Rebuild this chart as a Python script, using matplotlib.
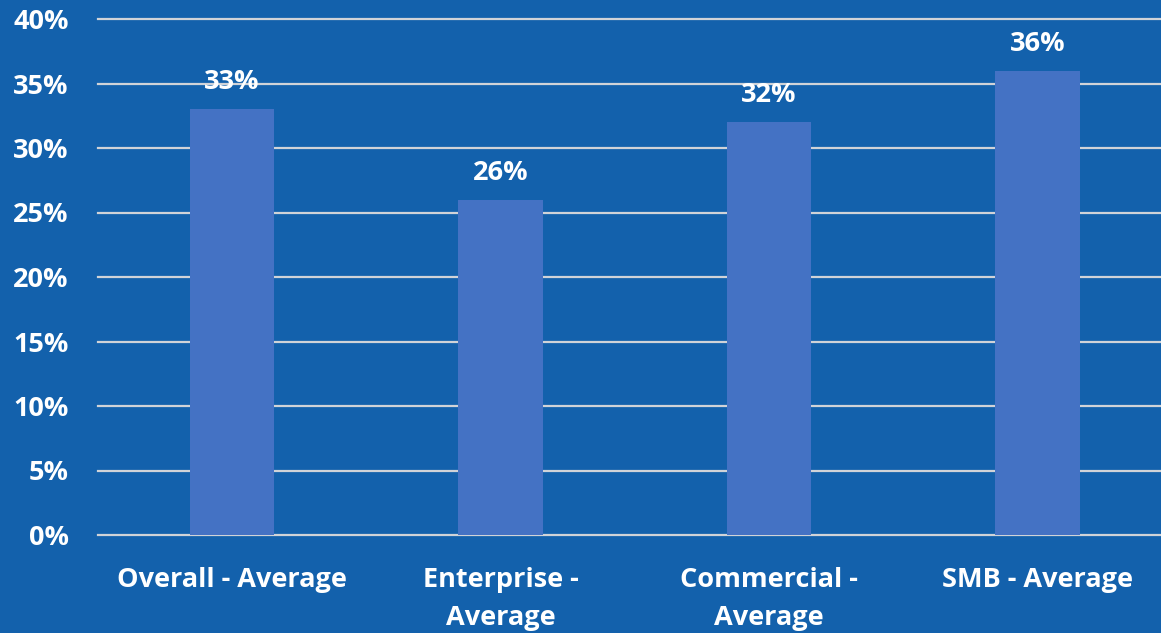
import matplotlib.pyplot as plt
from matplotlib.ticker import FuncFormatter

categories = ['Overall - Average', 'Enterprise -\nAverage', 'Commercial -\nAverage', 'SMB - Average']
values = [0.33, 0.26, 0.32, 0.36]
yticks = [0, 0.05, 0.10, 0.15, 0.20, 0.25, 0.30, 0.35, 0.40]

bg = '#1361AC'
bar_color = '#4472C4'
grid_color = '#D0D3D8'
font = ['Open Sans', 'DejaVu Sans']

plt.rcParams['font.family'] = font
plt.rcParams['font.weight'] = 'bold'

fig = plt.figure(figsize=(11.61, 6.33), dpi=100, facecolor=bg)
ax = fig.add_axes([97.75 / 1161, 98 / 633, 1074 / 1161, 516 / 633])
ax.set_facecolor(bg)

x = range(len(categories))
ax.bar(x, values, width=0.313, color=bar_color, zorder=3)
for xi, v in zip(x, values):
    ax.annotate(f'{v*100:.0f}%', (xi, v), xytext=(0, 10), textcoords='offset points',
                ha='center', va='bottom', color='white', fontsize=19.5, fontweight='bold')

ax.set_xlim(-0.5, len(categories) - 0.5)
ax.set_ylim(0, 0.40)
ax.set_yticks(yticks)
ax.yaxis.set_major_formatter(FuncFormatter(lambda v, p: f'{v*100:.0f}%'))
ax.set_xticks(list(x))
ax.set_xticklabels(categories)
ax.grid(axis='y', color=grid_color, linewidth=1.6, zorder=0, clip_on=False)
ax.tick_params(axis='both', length=0, colors='white', labelsize=19.5)
ax.tick_params(axis='y', pad=21)
ax.tick_params(axis='x', pad=23)
for lbl in ax.get_xticklabels() + ax.get_yticklabels():
    lbl.set_fontweight('bold')
    lbl.set_linespacing(1.6)
for s in ax.spines.values():
    s.set_visible(False)

fig.savefig('out.png', dpi=100, facecolor=bg)
